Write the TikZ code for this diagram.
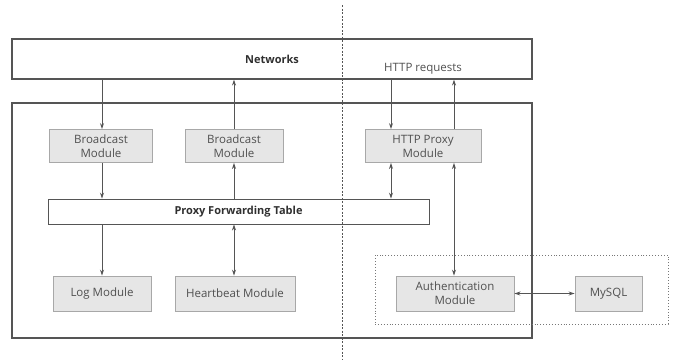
\documentclass[tikz,border=0pt]{standalone}
\usepackage{fontspec}
\setmainfont{Open Sans}
\usetikzlibrary{arrows.meta, positioning, calc}
\definecolor{pxline}{HTML}{555555}
\definecolor{pxborder}{HTML}{A8A8A8}
\definecolor{pxfill}{HTML}{E6E6E6}
\definecolor{pxtext}{HTML}{505050}
\definecolor{pxdark}{HTML}{303030}

\begin{document}
\begin{tikzpicture}[
  x=1pt, y=-1pt,
  every node/.style={font=\fontsize{11.5}{14}\selectfont, text=pxtext},
  modbox/.style={rectangle, draw=pxborder, fill=pxfill, line width=0.9pt, inner sep=0pt, align=center, minimum height=33pt},
  framebox/.style={rectangle, draw=pxline, line width=1.1pt, inner sep=0pt},
  titletext/.style={font=\fontsize{11}{14}\selectfont\bfseries, text=pxdark},
  arr/.style={-{Stealth[length=6pt, width=4pt]}, pxline, line width=0.9pt},
  biarr/.style={{Stealth[length=6pt, width=4pt]}-{Stealth[length=6pt, width=4pt]}, pxline, line width=0.9pt},
]
\useasboundingbox (0,0) rectangle (675,360);

% Networks and outer frame
\node[framebox, minimum width=520pt, minimum height=40pt, titletext] (net) at (272,59) {Networks};
\node (httpreq) at (423,69) {HTTP requests};
\node[framebox, minimum width=520pt, minimum height=235pt] (core) at (272,220.5) {};

% split line
\coordinate (splittop) at (342,5);
\coordinate (splitbot) at (342,360);
\draw[pxline, dashed, dash pattern=on 2pt off 1.5pt, line width=0.9pt] (splittop) -- (splitbot);

% Upper modules
\node[modbox, minimum width=103pt] (bc1) at (101,146) {Broadcast\\Module};
\node[modbox, minimum width=98pt] (bc2) at (234,146) {Broadcast\\Module};
\node[modbox, minimum width=116pt] (http) at (423,146) {HTTP Proxy\\Module};

\node[framebox, line width=0.9pt, minimum width=381pt, minimum height=25pt, titletext] (pft) at (238.5,211.5) {Proxy Forwarding Table};

% Lower modules
\node[draw=pxline!80, dotted, line width=0.9pt, minimum width=293pt, minimum height=69pt] (authgrp) at (521.5,289.5) {};
\node[modbox, minimum width=98pt, minimum height=35pt] (log) at (102,293.5) {Log Module};
\node[modbox, minimum width=120pt, minimum height=35pt] (heart) at (235,293.5) {Heartbeat Module};
\node[modbox, minimum width=118pt, minimum height=35pt] (auth) at (455,293.5) {Authentication\\Module};
\node[modbox, minimum width=67pt, minimum height=35pt] (mysql) at (608.5,293.5) {MySQL};

\coordinate (hin) at ([xshift=-32pt]http.north);
\coordinate (hout) at ([xshift=31pt]http.north);

% Connectors
\draw[arr] (net.south -| log) -- (log |- bc1.north);
\draw[arr] (bc2.north) -- (bc2 |- net.south);
\draw[arr] (hin |- net.south) -- (hin);
\draw[arr] (hout) -- (hout |- net.south);

\draw[arr] (log |- bc1.south) -- (log |- pft.north);
\draw[arr] (bc2 |- pft.north) -- (bc2.south);
\draw[biarr] (hin |- http.south) -- (hin |- pft.north);
\draw[biarr] (hout |- http.south) -- (hout |- auth.north);

\draw[arr] (pft.south -| log) -- (log.north);
\draw[biarr] (pft.south -| bc2) -- (bc2 |- heart.north);
\draw[biarr] (auth.east) -- (mysql.west);

\end{tikzpicture}
\end{document}
